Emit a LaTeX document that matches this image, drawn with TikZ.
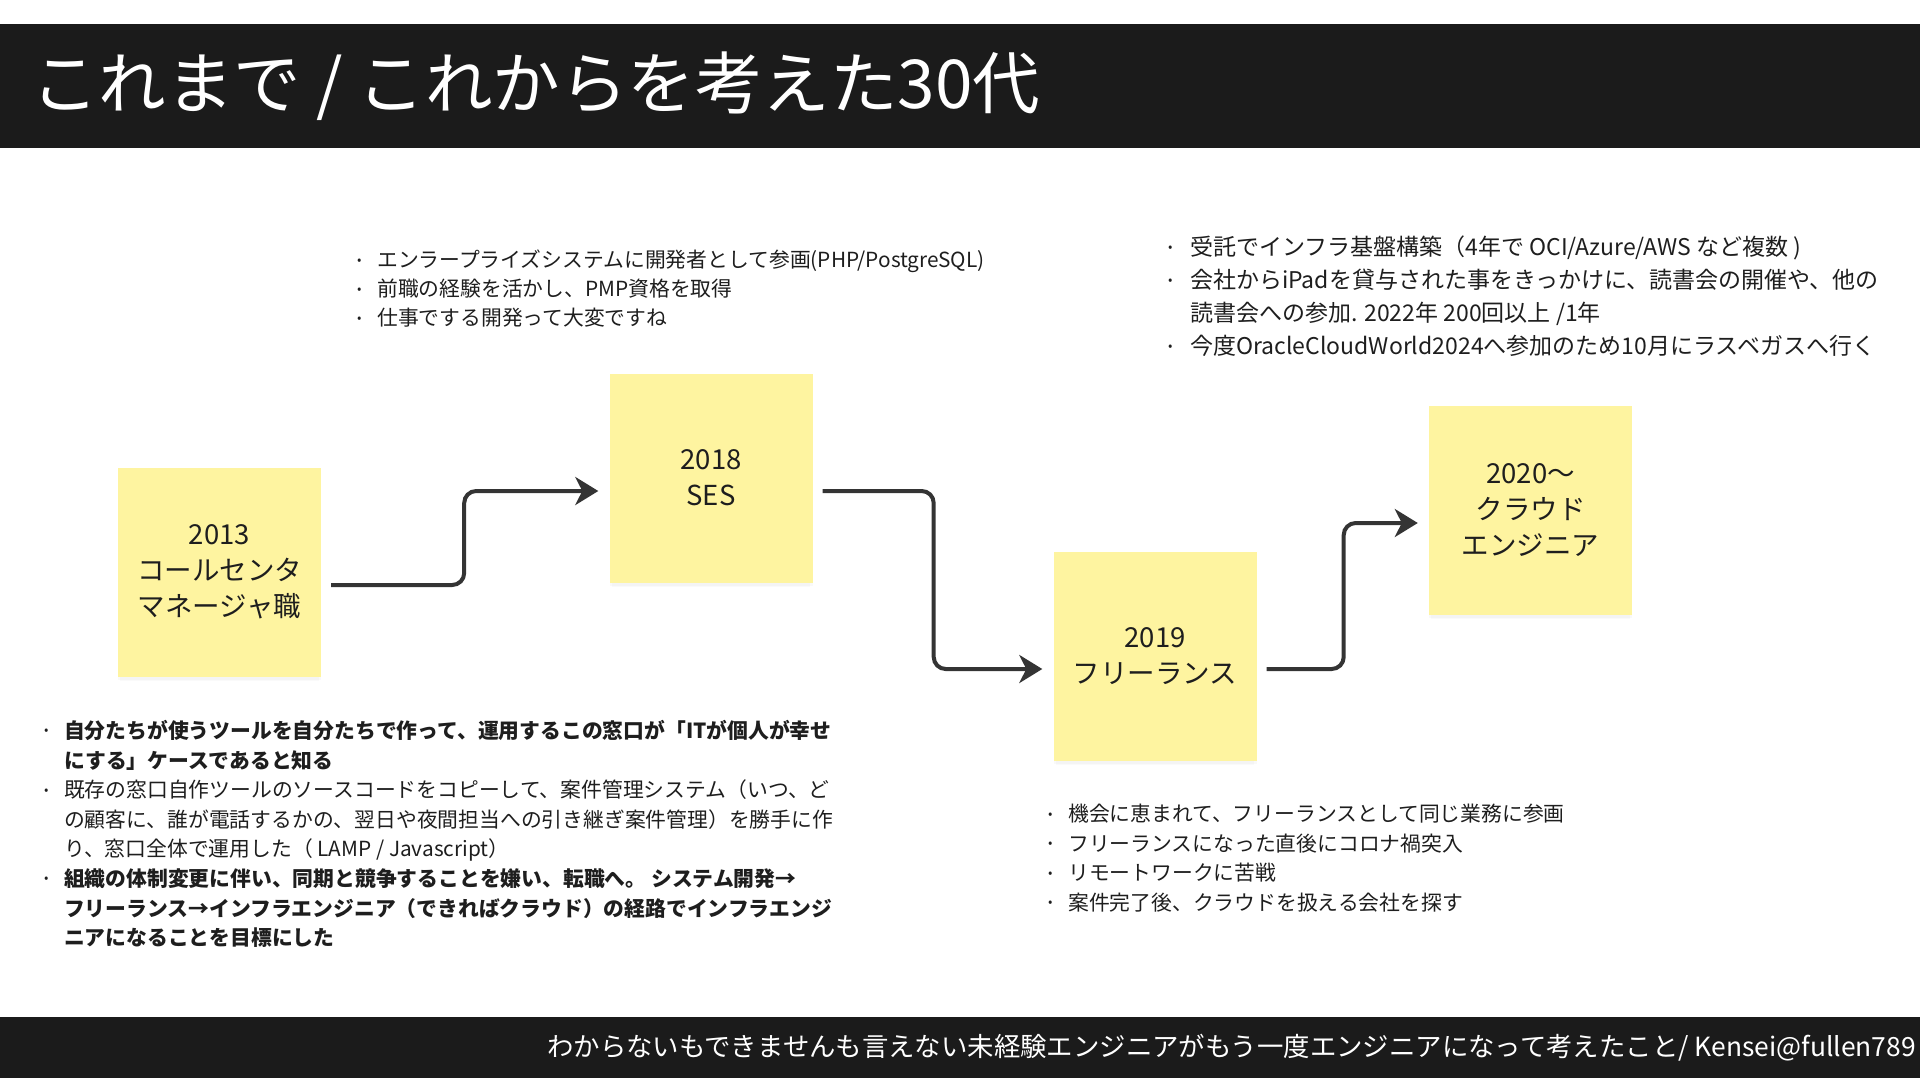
\documentclass[tikz,border=0pt]{standalone}
\usepackage{fontspec}
\setmainfont{Noto Sans CJK JP}
\usetikzlibrary{arrows.meta,shadows}

\definecolor{barcol}{RGB}{27,27,27}
\definecolor{notecol}{RGB}{254,244,160}
\definecolor{linecol}{RGB}{52,52,52}
\definecolor{inkcol}{RGB}{30,30,30}

% bullet and hanging indent
\newcommand{\bl}[1][20pt]{\makebox[#1][l]{\raisebox{0.17em}{\fontsize{13}{13}\selectfont •}}}
\newcommand{\ind}[1][20pt]{\hspace*{#1}}

\tikzset{
    note/.style={fill=notecol, minimum width=203, minimum height=209, inner sep=0pt,
        align=center, text=inkcol, font=\fontsize{27.5}{36}\selectfont,
        drop shadow={shadow xshift=0pt, shadow yshift=-3pt, opacity=0.05},
        drop shadow={shadow xshift=0pt, shadow yshift=-7pt, shadow scale=0.98, opacity=0.04}},
    flow/.style={draw=linecol, line width=4pt, rounded corners=12pt,
        -{Stealth[length=23pt, width=28pt, inset=7pt]}},
    memo/.style={anchor=north west, inner sep=0pt, align=left, text=inkcol}
}

\begin{document}
\begin{tikzpicture}[x=1pt, y=-1pt]
    % --- Canvas (pixel units, y down) ---
    \useasboundingbox (0,0) rectangle (1920,1080);

    % --- Bars ---
    \fill[barcol] (0,24) rectangle (1920,148);
    \fill[barcol] (0,1017) rectangle (1920,1078);
    \node[anchor=west, text=white, font=\fontsize{67.5}{68}\selectfont, inner sep=0pt] (Title)
        at (31,86) {これまで / これからを考えた30代};
    \node[anchor=east, text=white, font=\fontsize{26.4}{27}\selectfont, inner sep=0pt] (Footer)
        at (1916,1048) {わからないもできませんも言えない未経験エンジニアがもう一度エンジニアになって考えたこと/ Kensei@fullen789};

    % --- Sticky notes ---
    \node[note] (Note2013)  at (219.5,572) {2013\\コールセンタ\\マネージャ職};
    \node[note] (NoteSES)   at (711,478)   {2018\\SES};
    \node[note] (NoteFree)  at (1155,656)  {2019\\フリーランス};
    \node[note] (NoteCloud) at (1530.5,510) {2020～\\クラウド\\エンジニア};

    % --- Connectors ---
    \draw[flow] ([shift={(10,13)}]Note2013.east) -- ++(133,0) |- ([shift={(-11,13)}]NoteSES.west);
    \draw[flow] ([shift={(10,13)}]NoteSES.east) -- ++(111,0) |- ([shift={(-11,13)}]NoteFree.west);
    \draw[flow] ([shift={(10,13)}]NoteFree.east) -- ++(77,0) |- ([shift={(-11,13)}]NoteCloud.west);

    % --- Memos ---
    \node[memo, font=\fontsize{20.8}{29}\selectfont] (MemoSES) at (357,250) {%
        \bl エンラープライズシステムに開発者として参画(PHP/PostgreSQL)\\%
        \bl 前職の経験を活かし、PMP資格を取得\\%
        \bl 仕事でする開発って大変ですね};

    \node[memo, font=\fontsize{23}{33}\selectfont] (MemoCloud) at (1168,236) {%
        \bl[22pt]受託でインフラ基盤構築（4年で OCI/Azure/AWS など複数 )\\%
        \bl[22pt]会社からiPadを貸与された事をきっかけに、読書会の開催や、他の\\%
        \ind[22pt]読書会への参加. 2022年 200回以上 /1年\\%
        \bl[22pt]今度OracleCloudWorld2024へ参加のため10月にラスベガスへ行く};

    \node[memo, font=\fontsize{20.8}{29.6}\selectfont] (Memo2013) at (44,720) {%
        \bl\textbf{自分たちが使うツールを自分たちで作って、運用するこの窓口が「ITが個人が幸せ}\\%
        \ind\textbf{にする」ケースであると知る}\\%
        \bl 既存の窓口自作ツールのソースコードをコピーして、案件管理システム（いつ、ど\\%
        \ind の顧客に、誰が電話するかの、翌日や夜間担当への引き継ぎ案件管理）を勝手に作\\%
        \ind り、窓口全体で運用した（ LAMP / Javascript）\\%
        \bl\textbf{組織の体制変更に伴い、同期と競争することを嫌い、転職へ。 システム開発→}\\%
        \ind\textbf{フリーランス→インフラエンジニア（できればクラウド）の経路でインフラエンジ}\\%
        \ind\textbf{ニアになることを目標にした}};

    \node[memo, font=\fontsize{20.8}{29.6}\selectfont] (MemoFree) at (1048,804) {%
        \bl 機会に恵まれて、フリーランスとして同じ業務に参画\\%
        \bl フリーランスになった直後にコロナ禍突入\\%
        \bl リモートワークに苦戦\\%
        \bl 案件完了後、クラウドを扱える会社を探す};
\end{tikzpicture}
\end{document}
